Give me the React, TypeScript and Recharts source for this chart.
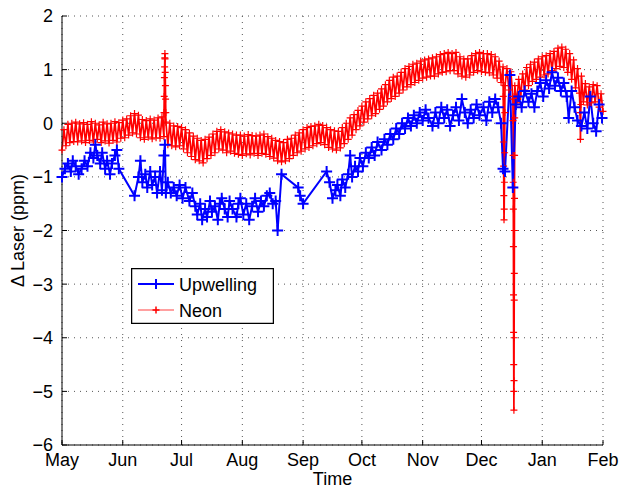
import { LineChart, Line, XAxis, YAxis, CartesianGrid, Legend } from "recharts";

const FONT = '"Liberation Sans", Arial, Helvetica, sans-serif';

// x axis is days since 1 May
const monthTicks = [0, 31, 61, 92, 123, 153, 184, 214, 245, 276];
const monthLabels = ["May", "Jun", "Jul", "Aug", "Sep", "Oct", "Nov", "Dec", "Jan", "Feb"];
const yTicks = [-6, -5, -4, -3, -2, -1, 0, 1, 2];

// upwelling laser: [day, ppm]
const upwelling: [number, number][] = [
  [0, -1.0], [1.5, -0.85], [3, -0.75], [4.5, -0.9], [5.5, -0.7], [7, -0.8], [8.5, -0.95], [10, -0.85],
  [11.5, -0.7], [13, -0.8], [14.5, -0.55], [16, -0.65], [17, -0.4], [18, -0.6], [19.5, -0.75], [20.5, -0.55],
  [22, -0.85], [23, -0.7], [24.5, -0.95], [25.5, -0.75], [27, -0.6], [28, -0.5], [29, -0.85],
  [37, -1.35], [39, -1.0], [40, -0.7], [41, -1.1], [42.5, -0.95], [43.5, -1.2], [45, -0.9], [46, -1.15],
  [47.5, -1.0], [48.5, -1.3], [50, -0.9], [51, -1.25], [52, -0.6], [52.5, -0.4], [53, -1.3], [54, -1.1],
  [55.5, -1.3], [57, -1.2], [58.5, -1.35], [60, -1.15], [61.5, -1.4], [63, -1.2], [65, -1.45], [66.5, -1.3],
  [68, -1.55], [69, -1.7], [70.5, -1.5], [71.5, -1.8], [73, -1.6], [74, -1.75], [75.5, -1.45], [76.5, -1.65],
  [78, -1.55], [79.5, -1.8], [80.5, -1.5], [81.5, -1.4], [83, -1.6], [84.5, -1.75], [85.5, -1.45], [87, -1.6],
  [89, -1.75], [90, -1.5], [91, -1.4], [92.5, -1.7], [94, -1.5], [95.5, -1.8], [97, -1.55], [98.5, -1.4],
  [100, -1.65], [101.5, -1.45], [103, -1.55], [104.5, -1.35], [106, -1.3], [107.5, -1.5], [109, -1.45],
  [110, -2.0], [112, -0.95],
  [120.5, -1.2], [121.5, -1.35], [123, -1.5],
  [135, -0.9], [136.5, -1.1], [138, -1.4], [139.5, -1.25], [140.5, -1.15], [142, -1.35], [143, -1.05],
  [144.5, -1.2], [146, -0.95], [147, -0.6], [148, -1.0], [149.5, -0.8], [151, -0.9], [152, -0.65],
  [153.5, -0.8], [155, -0.55], [156.5, -0.65], [158, -0.45], [159.5, -0.6], [161, -0.35], [163, -0.5],
  [164.5, -0.3], [166, -0.4], [167.5, -0.2], [169, -0.3], [170.5, -0.1], [172, -0.2], [173.5, 0.0],
  [175, -0.1], [176.5, 0.1], [178, -0.05], [179.5, 0.15], [181, 0.0], [182.5, 0.2], [184, 0.05],
  [185.5, 0.25], [187, 0.1], [189, -0.05], [190.5, 0.2], [192, 0.0], [193.5, 0.3], [195, 0.1],
  [196.5, 0.25], [198, -0.05], [199.5, 0.15], [201, 0.3], [202.5, 0.05], [204, 0.45], [205.5, 0.2],
  [207, 0.0], [208.5, 0.25], [210, 0.1], [211.5, 0.35], [213, 0.15], [215, 0.3], [216.5, 0.05],
  [218, 0.4], [219.5, 0.2], [221, 0.45], [222.5, 0.3], [224, 0.0], [225, -0.85], [226, -0.9],
  [228.5, 0.9], [230, -1.2], [231.5, 0.35], [233, 0.5], [234.5, 0.3], [236, 0.6], [238, 0.4],
  [239.5, 0.55], [241, 0.3], [242.5, 0.6], [244, 0.75], [245.5, 0.5], [247, 0.8], [248.5, 0.65],
  [250, 0.95], [251.5, 0.7], [253, 0.85], [254.5, 0.6], [256, 0.75], [257.5, 0.5], [258.5, 0.1],
  [260, 0.6], [261.5, 0.3], [263, 0.05], [265, -0.05], [266.5, 0.2], [268, -0.1], [269.5, 0.5],
  [271, 0.0], [272.5, -0.15], [274, 0.35], [275.5, 0.1],
];

// neon laser, one value per day from 1 May
const neonDaily = [
  -0.50, -0.12, -0.42, -0.02, -0.36, 0.00, -0.34, 0.02, -0.35, -0.01,
  -0.33, 0.01, -0.36, -0.02, -0.32, 0.03, -0.35, 0.00, -0.30, -0.03,
  -0.36, 0.02, -0.33, -0.01, -0.37, 0.00, -0.32, 0.03, -0.35, 0.01,
  -0.28, 0.06, -0.27, 0.08, -0.22, 0.14, -0.18, 0.18, -0.20, 0.15,
  -0.27, 0.07, -0.30, 0.05, -0.26, 0.08, -0.29, 0.06, -0.27, 0.10,
  -0.28, 0.12, -0.25, 0.02, -0.40, 0.00, -0.42, -0.05, -0.44, -0.06,
  -0.42, -0.08, -0.48, -0.12, -0.55, -0.18, -0.62, -0.24, -0.68, -0.28,
  -0.70, -0.32, -0.74, -0.30, -0.66, -0.26, -0.60, -0.20, -0.55, -0.15,
  -0.48, -0.12, -0.50, -0.16, -0.55, -0.18, -0.52, -0.20, -0.56, -0.22,
  -0.58, -0.22, -0.60, -0.24, -0.57, -0.21, -0.59, -0.23, -0.56, -0.24,
  -0.60, -0.22, -0.56, -0.20, -0.58, -0.25, -0.62, -0.28, -0.65, -0.32,
  -0.70, -0.34, -0.72, -0.36, -0.70, -0.30, -0.66, -0.28, -0.60, -0.22,
  -0.55, -0.18, -0.52, -0.12, -0.48, -0.08, -0.45, -0.06, -0.42, -0.05,
  -0.38, -0.02, -0.36, -0.04, -0.40, -0.08, -0.45, -0.12, -0.48, -0.14,
  -0.50, -0.15, -0.46, -0.08, -0.38, 0.00, -0.30, 0.10, -0.22, 0.16,
  -0.12, 0.24, -0.05, 0.32, 0.02, 0.40, 0.08, 0.46, 0.14, 0.52,
  0.18, 0.56, 0.26, 0.64, 0.32, 0.72, 0.40, 0.80, 0.46, 0.86,
  0.50, 0.88, 0.56, 0.95, 0.62, 1.02, 0.68, 1.06, 0.72, 1.10,
  0.76, 1.12, 0.80, 1.16, 0.84, 1.18, 0.86, 1.20, 0.88, 1.22,
  0.88, 1.24, 0.92, 1.28, 0.95, 1.30, 0.96, 1.32, 0.98, 1.30,
  0.98, 1.32, 0.92, 1.24, 0.88, 1.20, 0.86, 1.20, 0.90, 1.26,
  0.95, 1.30, 0.98, 1.32, 0.96, 1.30, 0.95, 1.30, 0.94, 1.28,
  0.90, 1.24, 0.84, 1.16, 0.76, 1.05, 0.70, 1.02, 0.62, 0.96,
  0.50, 0.70, 0.38, 0.82, 0.50, 0.92, 0.62, 1.04, 0.70, 1.10,
  0.78, 1.14, 0.82, 1.20, 0.86, 1.24, 0.90, 1.26, 0.92, 1.30,
  0.98, 1.34, 1.02, 1.40, 1.06, 1.42, 1.04, 1.38, 0.95, 1.30,
  0.82, 1.18, 0.66, 1.02, 0.56, 0.88, 0.40, 0.74, 0.34, 0.68,
  0.38, 0.72, 0.40, 0.70, 0.30, 0.55, 0.22,
];

// short excursions in the neon record: [day, ppm]
const neonSpikes: [number, number][] = [
  [52.05, 0.2], [52.15, 0.5], [52.25, 0.85], [52.35, 1.05], [52.45, 1.22], [52.5, 1.3],
  [52.55, 1.2], [52.65, 0.95], [52.75, 0.7], [52.85, 0.45], [52.95, 0.2],
  [225.1, 0.5], [225.2, -0.35], [225.3, -0.8], [225.4, -1.35], [225.5, -1.8],
  [225.6, -1.6], [225.7, -1.1], [225.8, -0.55], [225.9, 0.2],
  [230.05, 0.45], [230.1, 0.05], [230.15, -0.6], [230.2, -1.1], [230.25, -1.6], [230.3, -2.3],
  [230.35, -3.2], [230.4, -3.9], [230.45, -4.5], [230.5, -5.0], [230.55, -5.35], [230.6, -4.8],
  [230.65, -4.0], [230.7, -3.3], [230.75, -2.8], [230.8, -2.0], [230.85, -1.4], [230.9, -0.6],
  [230.95, 0.1],
  [264.3, 0.2], [264.5, -0.3], [264.7, 0.35],
];

const upwellingData = upwelling.map(([day, value]) => ({ day, value }));
const neonData = [
  ...neonDaily.map((value, day) => ({ day, value })),
  ...neonSpikes.map(([day, value]) => ({ day, value })),
].sort((a, b) => a.day - b.day);

const plusDot = (size: number, color: string, width: number, id: string) => (props: any) => {
  const { cx, cy, index } = props;
  if (cx == null || cy == null) return <g key={`${id}-${index}`} />;
  return (
    <path
      key={`${id}-${index}`}
      d={`M${cx - size},${cy}H${cx + size}M${cx},${cy - size}V${cy + size}`}
      stroke={color}
      strokeWidth={width}
      fill="none"
    />
  );
};

const minus = (v: number) => String(v).replace("-", "\u2212");

const tickStyle = { fill: "#000", fontSize: 18, fontFamily: FONT };

const LegendBox = () => (
  <svg width={143} height={56} style={{ display: "block" }}>
    <rect x={0.5} y={0.5} width={142} height={55} fill="#fff" stroke="#000" strokeWidth={1.5} />
    <line x1={7} y1={16} x2={43} y2={16} stroke="#0000ff" strokeWidth={2} />
    <path d="M25,11V21M20,16H30" stroke="#0000ff" strokeWidth={2} />
    <text x={48} y={22.5} fontSize={18} fontFamily={FONT} fill="#000">Upwelling</text>
    <line x1={7} y1={42} x2={43} y2={42} stroke="#ff8080" strokeWidth={1.5} />
    <path d="M25,38.5V45.5M21.5,42H28.5" stroke="#ff0000" strokeWidth={1.5} />
    <text x={48} y={48.5} fontSize={18} fontFamily={FONT} fill="#000">Neon</text>
  </svg>
);

export default function App() {
  return (
    <div style={{ position: "absolute", left: 0, top: 0, width: 620, height: 489, background: "#fff", fontFamily: FONT }}>
      <LineChart width={620} height={489} margin={{ top: 16, right: 17, bottom: 0, left: 0 }}>
        <CartesianGrid stroke="#555" strokeDasharray="1 5" />
        <XAxis
          dataKey="day"
          type="number"
          domain={[0, 276]}
          ticks={monthTicks}
          interval={0}
          height={44}
          stroke="#000"
          tickSize={-5}
          tickMargin={13}
          tick={tickStyle}
          tickFormatter={(v: number) => monthLabels[monthTicks.indexOf(v)]}
          label={{ value: "Time", position: "insideBottom", offset: 4, fill: "#000", fontSize: 18, fontFamily: FONT }}
        />
        <XAxis
          xAxisId="top"
          orientation="top"
          type="number"
          domain={[0, 276]}
          ticks={monthTicks}
          interval={0}
          height={0}
          stroke="#000"
          tickSize={-5}
          tick={false}
        />
        <YAxis
          type="number"
          domain={[-6, 2]}
          ticks={yTicks}
          interval={0}
          width={62}
          stroke="#000"
          tickSize={-5}
          tickMargin={14}
          tick={tickStyle}
          tickFormatter={minus}
          label={{
            content: ({ viewBox }: any) => {
              const cx = 18;
              const cy = viewBox.y + viewBox.height / 2;
              return (
                <text
                  transform={`translate(${cx},${cy}) rotate(-90)`}
                  textAnchor="middle"
                  dominantBaseline="central"
                  fontSize={18}
                  fontFamily={FONT}
                  fill="#000"
                >
                  Δ Laser (ppm)
                </text>
              );
            },
          }}
        />
        <YAxis
          yAxisId="right"
          orientation="right"
          type="number"
          domain={[-6, 2]}
          ticks={yTicks}
          interval={0}
          width={0}
          stroke="#000"
          tickSize={-5}
          tick={false}
        />
        <Line
          data={neonData}
          dataKey="value"
          name="Neon"
          stroke="#ff0000"
          strokeWidth={1.7}
          dot={plusDot(3.5, "#ff0000", 1.2, "n")}
          activeDot={false}
          isAnimationActive={false}
        />
        <Line
          data={upwellingData}
          dataKey="value"
          name="Upwelling"
          stroke="#0000ff"
          strokeWidth={2}
          dot={plusDot(5.5, "#0000ff", 2, "u")}
          activeDot={false}
          isAnimationActive={false}
        />
        <Legend
          layout="horizontal"
          verticalAlign="middle"
          align="center"
          wrapperStyle={{ left: 131, top: 268, width: 143, height: 56 }}
          content={() => <LegendBox />}
        />
      </LineChart>
    </div>
  );
}
